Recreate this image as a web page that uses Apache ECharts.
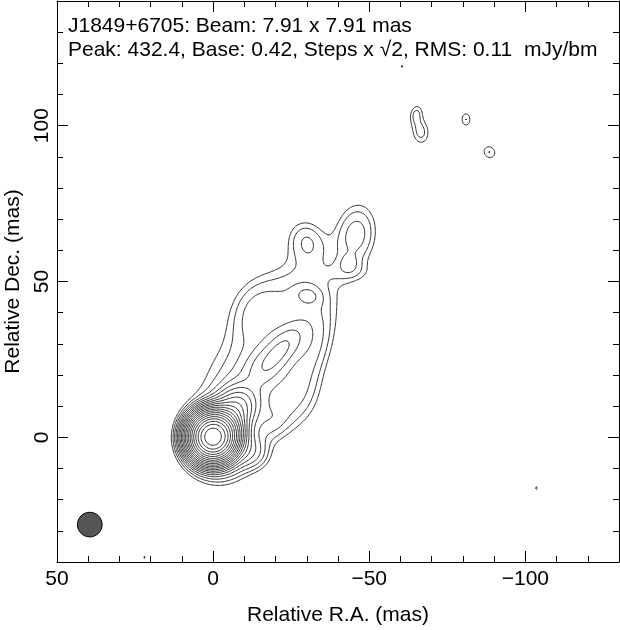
<!DOCTYPE html>
<html><head><meta charset="utf-8">
<script src="https://cdn.jsdelivr.net/npm/echarts@6/dist/echarts.min.js"></script>
<style>html,body{margin:0;padding:0;background:#fff}#c{width:620px;height:630px}</style>
</head><body><div id="c"></div>
<script>
// Brightness components (RA offset mas, Dec offset mas, peak mJy/beam, FWHM major mas, FWHM minor mas, PA deg)
const compRA   = [0.1, -1.0, -3.0, -7.0, -11.0, -12.0, -29.0, -9.0, -16.0, -22.0, -30.5, -30.0, -45.7, -43.3, -27.0, -32.0, -44.0, -14.0, -19.0, -66.5, -65.0, -81.0, -88.5, -60.5, -103.5, 22.0];
const compDec  = [0.1, -2.0,  3.5,  9.0,  -4.0, 17.0, 46.0, 11.0, 22.0, 28.5, 45.5, 63.0, 65.0, 56.0, 14.0, 30.0, 53.0, 40.0, 5.0, 98.0, 104.0, 102.0, 91.5, 119.0, -16.3, -38.5];
const compPeak = [405, 2.8, 22, 4.5, 1.2, 0.9, 0.75, 1.2, 0.9, 1.8, 0.55, 0.75, 1.0, 0.42, 0.6, 0.7, 0.35, 0.8, 0.5, 0.68, 0.55, 0.6, 0.6, 0.44, 0.45, 0.44];
const compMaj  = [8.0, 16, 8, 9, 10, 32, 22, 11, 11, 14, 7, 12, 17, 4.5, 18, 18, 12, 18, 10, 8, 6, 5, 5, 2.5, 3, 3];
const compMin  = [7.8, 15, 8, 8, 8, 26, 20, 10, 9, 7, 5, 10, 11, 4.5, 12, 10, 6, 14, 8, 5.5, 4, 3.5, 4.5, 2.5, 1.8, 2];
const compPA   = [0, 30, -40, -40, 60, -30, -20, -40, -40, -40, 80, 20, -8, 0, -15, -15, 90, -10, -30, 5, -15, 0, 45, 0, 0, 0];
// Contour levels (mJy/beam): base 0.42, steps x sqrt(2), up to the peak 432.4
const contourLevels = [0.42, 0.594, 0.84, 1.188, 1.68, 2.376, 3.36, 4.752, 6.72, 9.504, 13.44, 19.01, 26.88, 38.02, 53.76, 76.03, 107.5, 152.1, 215.0, 304.1, 430.1];
// Restoring beam
const beamMaj = 7.91, beamMin = 7.91, beamPA = 0;
const beamCenter = [39.5, -28];
// Axis tick labels
const xTickLabels = [50, 0, -50, -100];
const yTickLabels = [0, 50, 100];
const titleLine1 = 'J1849+6705: Beam: 7.91 x 7.91 mas';
const titleLine2 = 'Peak: 432.4, Base: 0.42, Steps x \u221A2, RMS: 0.11  mJy/bm';

// ---- Build brightness grid and contour it ----
const X0 = -130, X1 = 50, Y0 = -40, Y1 = 140, STEP = 0.4;
const NX = Math.round((X1 - X0) / STEP) + 1, NY = Math.round((Y1 - Y0) / STEP) + 1;
const LN = new Float64Array(NX * NY);
(function () {
  const F = new Float64Array(NX * NY);
  const K = 4 * Math.LN2;
  for (let c = 0; c < compRA.length; c++) {
    const pa = compPA[c] * Math.PI / 180, s = Math.sin(pa), co = Math.cos(pa);
    const a = compMaj[c], b = compMin[c], p = compPeak[c];
    const R = 4 * a;
    const i0 = Math.max(0, Math.floor((compRA[c] - R - X0) / STEP)), i1 = Math.min(NX - 1, Math.ceil((compRA[c] + R - X0) / STEP));
    const j0 = Math.max(0, Math.floor((compDec[c] - R - Y0) / STEP)), j1 = Math.min(NY - 1, Math.ceil((compDec[c] + R - Y0) / STEP));
    for (let j = j0; j <= j1; j++) {
      const dy = Y0 + j * STEP - compDec[c];
      for (let i = i0; i <= i1; i++) {
        const dx = X0 + i * STEP - compRA[c];
        const u = dx * s + dy * co, v = dx * co - dy * s;
        F[j * NX + i] += p * Math.exp(-K * ((u * u) / (a * a) + (v * v) / (b * b)));
      }
    }
  }
  for (let k = 0; k < F.length; k++) LN[k] = Math.log(Math.max(F[k], 1e-30));
})();

function contour(lev) {
  const L = Math.log(lev);
  const segA = [], segB = [];
  const pt = new Map();
  const H = (i, j) => 2 * (j * NX + i), V = (i, j) => 2 * (j * NX + i) + 1;
  function ptH(i, j) { const id = H(i, j); if (!pt.has(id)) { const a = LN[j * NX + i], b = LN[j * NX + i + 1]; const t = (L - a) / (b - a); pt.set(id, [X0 + (i + t) * STEP, Y0 + j * STEP]); } return id; }
  function ptV(i, j) { const id = V(i, j); if (!pt.has(id)) { const a = LN[j * NX + i], b = LN[(j + 1) * NX + i]; const t = (L - a) / (b - a); pt.set(id, [X0 + i * STEP, Y0 + (j + t) * STEP]); } return id; }
  for (let j = 0; j < NY - 1; j++) {
    for (let i = 0; i < NX - 1; i++) {
      const a = LN[j * NX + i], b = LN[j * NX + i + 1], c = LN[(j + 1) * NX + i + 1], d = LN[(j + 1) * NX + i];
      const code = (a > L ? 1 : 0) | (b > L ? 2 : 0) | (c > L ? 4 : 0) | (d > L ? 8 : 0);
      if (code === 0 || code === 15) continue;
      const B = () => ptH(i, j), T = () => ptH(i, j + 1), Lf = () => ptV(i, j), Rt = () => ptV(i + 1, j);
      const add = (p, q) => { segA.push(p); segB.push(q); };
      switch (code) {
        case 1: case 14: add(Lf(), B()); break;
        case 2: case 13: add(B(), Rt()); break;
        case 3: case 12: add(Lf(), Rt()); break;
        case 4: case 11: add(Rt(), T()); break;
        case 6: case 9: add(B(), T()); break;
        case 7: case 8: add(Lf(), T()); break;
        case 5: { const m = (a + b + c + d) / 4 > L; if (m) { add(B(), Rt()); add(T(), Lf()); } else { add(Lf(), B()); add(Rt(), T()); } break; }
        case 10: { const m = (a + b + c + d) / 4 > L; if (m) { add(Lf(), B()); add(Rt(), T()); } else { add(B(), Rt()); add(T(), Lf()); } break; }
      }
    }
  }
  const adj = new Map();
  const link = (e, s) => { const l = adj.get(e); if (l) l.push(s); else adj.set(e, [s]); };
  for (let s = 0; s < segA.length; s++) { link(segA[s], s); link(segB[s], s); }
  const used = new Uint8Array(segA.length);
  const lines = [];
  for (let s = 0; s < segA.length; s++) {
    if (used[s]) continue;
    used[s] = 1;
    const chain = [segA[s], segB[s]];
    let cur = segB[s];
    for (;;) { const l = adj.get(cur) || []; let nx = -1; for (const q of l) if (!used[q]) { nx = q; break; } if (nx < 0) break; used[nx] = 1; cur = segA[nx] === cur ? segB[nx] : segA[nx]; chain.push(cur); }
    cur = segA[s];
    const back = [];
    for (;;) { const l = adj.get(cur) || []; let nx = -1; for (const q of l) if (!used[q]) { nx = q; break; } if (nx < 0) break; used[nx] = 1; cur = segA[nx] === cur ? segB[nx] : segA[nx]; back.push(cur); }
    const full = back.reverse().concat(chain);
    lines.push({ coords: full.map(id => pt.get(id)) });
  }
  return lines;
}
const contourData = [];
contourLevels.forEach(l => { contour(l).forEach(c => contourData.push(c)); });

// ---- Chart ----
const FONT = '"Liberation Sans", Arial, Helvetica, sans-serif';
const minus = v => String(v).replace('-', '\u2212');
function xAx(pos, major, labels) {
  return {
    type: 'value', position: pos, min: -130, max: 50, interval: 10, inverse: true, gridIndex: 0,
    splitLine: { show: false },
    axisLine: { show: !major, onZero: false, lineStyle: { color: '#000', width: 1 } },
    axisTick: major ? { show: true, inside: true, length: 11, customValues: xTickLabels, lineStyle: { color: '#000', width: 1 } }
                    : { show: true, inside: true, length: 6, lineStyle: { color: '#000', width: 1 } },
    axisLabel: labels ? { show: true, customValues: xTickLabels, formatter: minus, margin: 7, color: '#000', fontSize: 21, fontFamily: FONT } : { show: false },
    name: labels ? 'Relative R.A. (mas)' : '', nameLocation: 'middle', nameGap: 43,
    nameTextStyle: { color: '#000', fontSize: 21, fontFamily: FONT }
  };
}
function yAx(pos, major, labels) {
  return {
    type: 'value', position: pos, min: -40, max: 140, interval: 10, gridIndex: 0,
    splitLine: { show: false },
    axisLine: { show: !major, onZero: false, lineStyle: { color: '#000', width: 1 } },
    axisTick: major ? { show: true, inside: true, length: 11, customValues: yTickLabels, lineStyle: { color: '#000', width: 1 } }
                    : { show: true, inside: true, length: 6, lineStyle: { color: '#000', width: 1 } },
    axisLabel: labels ? { show: true, customValues: yTickLabels, formatter: minus, rotate: 90, margin: 4, color: '#000', fontSize: 21, fontFamily: FONT } : { show: false },
    name: labels ? 'Relative Dec. (mas)' : '', nameLocation: 'middle', nameGap: 28, nameRotate: 90,
    nameTextStyle: { color: '#000', fontSize: 21, fontFamily: FONT }
  };
}
const chart = echarts.init(document.getElementById('c'), null, { renderer: 'canvas' });
chart.setOption({
  animation: false,
  backgroundColor: '#fff',
  grid: { left: 57, top: 1, width: 562, height: 561, containLabel: false, outerBoundsMode: 'none' },
  xAxis: [xAx('bottom', false, true), xAx('bottom', true, false), xAx('top', false, false), xAx('top', true, false)],
  yAxis: [yAx('left', false, true), yAx('left', true, false), yAx('right', false, false), yAx('right', true, false)],
  series: [
    {
      type: 'lines', coordinateSystem: 'cartesian2d', xAxisIndex: 0, yAxisIndex: 0, polyline: true, silent: true,
      lineStyle: { color: '#1a1a1a', width: 0.9, opacity: 1 },
      data: contourData
    },
    {
      type: 'custom', coordinateSystem: 'cartesian2d', xAxisIndex: 0, yAxisIndex: 0, silent: true,
      data: [[beamCenter[0], beamCenter[1], beamMaj, beamMin, beamPA]],
      renderItem: function (params, api) {
        const c = api.coord([api.value(0), api.value(1)]);
        const sz = api.size([api.value(3), api.value(2)]);
        return { type: 'ellipse', shape: { cx: c[0], cy: c[1], rx: sz[0] / 2, ry: sz[1] / 2 },
                 rotation: -api.value(4) * Math.PI / 180, originX: c[0], originY: c[1],
                 style: { fill: '#555555', stroke: '#000', lineWidth: 1 } };
      }
    }
  ],
  graphic: [
    { type: 'text', left: 68, top: 16, style: { text: titleLine1, fill: '#000', fontSize: 21, fontFamily: FONT } },
    { type: 'text', left: 68, top: 40, style: { text: titleLine2, fill: '#000', fontSize: 21, fontFamily: FONT } }
  ]
});
</script></body></html>
